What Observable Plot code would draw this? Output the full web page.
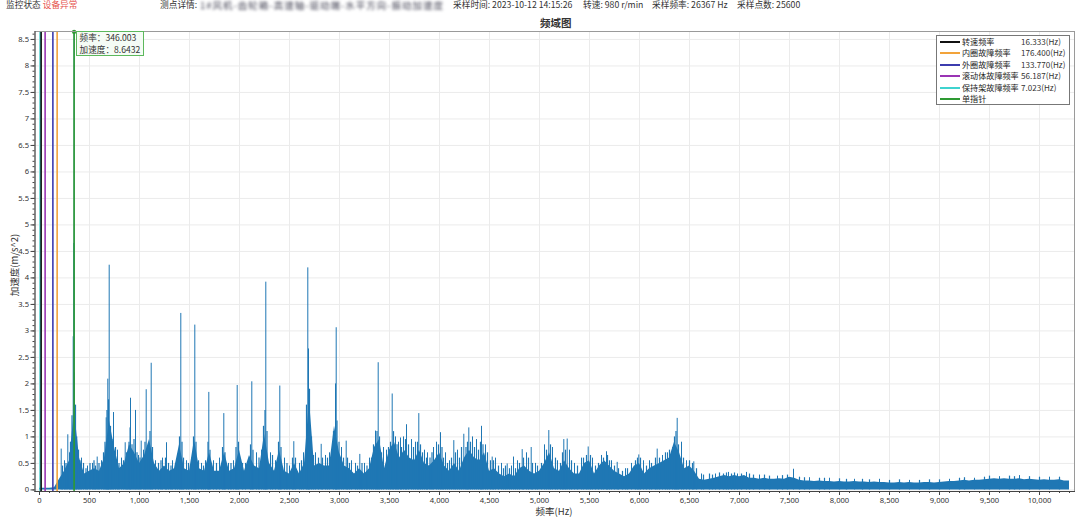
<!DOCTYPE html>
<html>
<head>
<meta charset="utf-8">
<script src="https://cdn.jsdelivr.net/npm/d3@7"></script>
<script src="https://cdn.jsdelivr.net/npm/@observablehq/plot@0.6"></script>
<style>
  html, body { margin: 0; padding: 0; background: #fff; }
  body { width: 1080px; height: 517px; position: relative; overflow: hidden;
         font-family: "Noto Sans CJK SC", "Noto Sans", sans-serif; color: #333; }
  .abs { position: absolute; white-space: nowrap; }
  .hdr { font-size: 8.7px; line-height: 12px; top: -1px; color: #333; }
  #legend { position: absolute; left: 936px; top: 35px; width: 132px; height: 68px;
            border: 1px solid #777; background: #fff; font-size: 8.1px; }
  #legend .row { position: absolute; left: 0; height: 11.4px; line-height: 11.4px; width: 132px; }
  #legend .sw { position: absolute; left: 3px; top: 5px; width: 20px; height: 2px; }
  #legend .nm { position: absolute; left: 25px; color: #222; }
  #legend .vl { position: absolute; left: 84px; color: #333; }
  #tip { position: absolute; border: 1px solid #5cb85c; background: rgba(244,252,244,0.9);
         font-size: 8.6px; line-height: 11.5px; padding: 0 3px; color: #333; }
</style>
</head>
<body>
<div class="abs hdr" style="left:6px">监控状态 <span style="color:#e5514b">设备异常</span></div>
<div class="abs hdr" style="left:160px">测点详情:</div>
<div class="abs hdr" style="left:200px;color:#445;filter:blur(1.6px);letter-spacing:1px;font-size:9.5px">1#风机-齿轮箱-高速轴-驱动端-水平方向-振动加速度</div>
<div class="abs hdr" style="left:453px">采样时间: 2023-10-12 14:15:26</div>
<div class="abs hdr" style="left:583px">转速: 980 r/min</div>
<div class="abs hdr" style="left:652px">采样频率: 26367 Hz</div>
<div class="abs hdr" style="left:737px">采样点数: 25600</div>
<div class="abs" style="left:540px;top:16px;font-size:10.5px;font-weight:bold;line-height:14px">频域图</div>
<div id="chart" class="abs" style="left:0;top:0"></div>
<div class="abs" style="left:14px;top:265px;font-size:9.5px;transform:translate(-50%,-50%) rotate(-90deg)">加速度(m/s^2)</div>
<div class="abs" style="left:554px;top:511px;font-size:9.5px;transform:translate(-50%,-50%)">频率(Hz)</div>
<div id="legend"></div>
<div id="tip"></div>
<script>
// ---- data ----
// background spectrum upper edge, one value every 50 Hz from 0 Hz
const noiseTop = [
  0.03,0.03,0.03,0.04,0.2,0.35,0.55,1.5,0.6,0.3,
  0.35,0.4,0.35,0.6,1.3,0.8,0.4,0.5,0.85,0.7,
  0.5,0.65,0.95,0.5,0.35,0.45,0.35,0.4,0.85,0.4,
  0.35,0.95,0.4,0.35,0.7,0.35,0.35,0.7,0.35,0.4,
  0.75,0.35,0.65,0.45,0.4,1.05,0.5,0.35,0.75,0.35,
  0.3,0.5,0.3,0.5,1.7,0.45,0.5,0.45,0.45,1.2,
  0.7,0.45,0.4,0.3,0.4,0.3,0.4,0.8,0.95,0.4,
  0.75,0.9,0.6,0.75,0.6,0.55,0.75,0.5,0.45,0.55,
  0.7,0.45,0.35,0.5,0.35,0.6,0.75,0.6,0.55,0.7,
  0.35,0.4,0.3,0.25,0.3,0.25,0.4,0.45,0.35,0.3,
  0.35,0.5,0.7,0.4,0.35,0.55,0.4,0.3,0.3,0.5,
  0.55,0.3,0.45,0.55,0.45,0.35,0.3,0.25,0.3,0.45,
  0.5,0.3,0.4,0.45,0.5,0.55,0.6,0.9,0.7,0.4,
  0.45,0.35,0.2,0.18,0.2,0.22,0.25,0.27,0.25,0.27,
  0.25,0.27,0.22,0.22,0.2,0.22,0.2,0.2,0.21,0.2,
  0.24,0.22,0.18,0.17,0.17,0.16,0.17,0.16,0.16,0.15,
  0.16,0.15,0.15,0.16,0.15,0.15,0.14,0.15,0.14,0.14,
  0.13,0.13,0.14,0.13,0.14,0.13,0.13,0.14,0.14,0.13,
  0.14,0.15,0.16,0.16,0.17,0.18,0.17,0.18,0.18,0.19,
  0.2,0.21,0.2,0.21,0.2,0.2,0.21,0.19,0.2,0.19,
  0.18,0.19,0.18,0.18,0.19,0.17,0.17
];
const noiseStepHz = 50;

// tall spectral lines (Hz, m/s^2)
const peakFreqs = [217,283,337,343,346.003,350,577,667,683,697,740,857,905,910,960,1017,1067,1117,1270,1413,1553,1693,1843,1977,2123,2263,2403,2543,2683,2690,2817,2960,2967,3067,3203,3360,3387,3527,3610,3670,3793,4010,4143,4243,4293,4420,4527,4677,4740,4827,4917,5093,5243,5277,5487,5670,5777,5993,6177,6377,6543,6890,7070,7540];
const peakValues = [0.77,1.04,2.89,4.65,8.6432,2.21,0.62,1.36,2.09,4.24,1.46,0.89,1.17,1.73,1.50,0.92,1.89,2.39,0.89,3.33,3.11,1.84,1.44,1.97,2.04,3.92,1.96,0.91,4.19,2.66,0.86,2.0,3.06,0.92,0.67,1.11,2.40,1.81,0.98,1.23,1.44,1.08,0.93,1.05,1.17,1.20,0.62,0.49,0.62,0.76,0.80,1.12,0.95,0.96,0.81,0.72,0.52,0.66,0.77,1.35,0.53,0.33,0.33,0.39];

// smaller spectral lines poking out of the noise
const minorFreqs = [250,300,420,480,530,620,780,820,880,990,1040,1160,1230,1330,1380,1470,1520,1620,1660,1740,1800,1890,1940,2060,2170,2220,2310,2360,2450,2500,2600,2640,2760,2860,2900,3020,3120,3160,3250,3300,3440,3470,3560,3590,3640,3720,3760,3850,3880,3940,3970,4060,4100,4180,4330,4370,4460,4560,4620,4720,4780,4870,4960,5050,5130,5180,5300,5350,5420,5530,5620,5720,5860,5920,6040,6100,6230,6280,6330,6420,6470,6620,6760,6980,7200,7380,7700,7900,8150,8400,8700,9100,9350,9600,9800,10100];
const minorValues = [0.55,0.7,0.6,0.45,0.5,0.55,0.75,0.6,0.7,0.65,0.75,0.55,0.6,0.55,0.65,0.55,0.6,0.5,0.55,0.55,0.6,0.5,0.55,0.5,0.7,0.75,0.7,0.55,0.6,0.45,0.5,0.7,0.7,0.65,0.7,0.8,0.55,0.5,0.5,0.6,0.8,0.75,1.0,0.9,1.0,0.95,0.9,0.75,0.7,0.8,0.9,0.7,0.55,0.75,1.0,0.95,0.85,0.6,0.5,0.45,0.55,0.7,0.5,0.85,0.8,0.55,0.75,0.5,0.6,0.6,0.65,0.55,0.4,0.5,0.55,0.55,0.65,0.7,0.8,0.9,0.55,0.3,0.3,0.3,0.28,0.26,0.23,0.22,0.2,0.2,0.18,0.2,0.22,0.25,0.27,0.24];

// fine lines that give the noise band its ragged top [Hz, m/s^2]
const fineLines = [
  [230,0.45],[265,0.5],[310,0.9],[325,1.4],[360,1.6],[372,1.0],[390,0.75],[405,0.55],[440,0.5],[465,0.4],
  [505,0.5],[545,0.55],[560,0.45],[595,0.5],[640,0.7],[655,0.9],[675,1.5],[690,1.7],[710,1.2],[725,0.95],
  [760,0.8],[795,0.5],[840,0.55],[870,0.7],[895,0.9],[925,0.85],[945,0.95],[975,0.7],[1005,0.6],[1055,0.9],
  [1085,0.8],[1105,1.1],[1130,0.8],[1190,0.5],[1215,0.55],[1260,0.6],[1290,0.5],[1315,0.45],[1360,0.5],[1400,1.0],
  [1425,0.9],[1440,0.6],[1490,0.5],[1540,1.0],[1565,0.9],[1590,0.55],[1640,0.45],[1685,0.9],[1705,0.75],[1770,0.5],
  [1830,0.8],[1855,0.7],[1915,0.5],[1965,0.8],[1990,0.9],[2030,0.5],[2110,0.85],[2135,0.75],[2195,0.6],[2240,1.2],
  [2255,1.5],[2275,1.1],[2330,0.65],[2390,0.9],[2415,0.8],[2475,0.5],[2530,0.6],[2560,0.6],[2620,0.55],[2670,1.6],
  [2700,1.9],[2720,1.0],[2740,0.65],[2790,0.6],[2830,0.6],[2880,0.6],[2940,1.1],[2975,1.3],[2995,0.9],[3040,0.6],
  [3080,0.6],[3100,0.5],[3180,0.45],[3225,0.5],[3275,0.45],[3320,0.6],[3340,0.85],[3375,1.1],[3400,1.0],[3420,0.7],
  [3490,0.8],[3510,0.9],[3540,1.1],[3575,0.85],[3620,0.8],[3660,0.95],[3690,0.85],[3740,0.8],[3780,0.9],[3810,0.85],
  [3830,0.7],[3870,0.6],[3905,0.6],[3925,0.7],[3990,0.85],[4025,0.8],[4040,0.6],[4080,0.5],[4120,0.6],[4160,0.7],
  [4200,0.6],[4220,0.8],[4265,0.8],[4280,0.9],[4310,0.9],[4350,0.8],[4390,0.75],[4410,0.9],[4435,0.85],[4480,0.7],
  [4510,0.55],[4540,0.55],[4590,0.45],[4640,0.4],[4660,0.45],[4700,0.4],[4760,0.4],[4800,0.5],[4840,0.6],[4890,0.6],
  [4930,0.5],[4980,0.45],[5020,0.5],[5070,0.75],[5110,0.85],[5160,0.6],[5210,0.5],[5230,0.7],[5260,0.75],[5320,0.55],
  [5380,0.45],[5440,0.6],[5470,0.65],[5510,0.65],[5560,0.45],[5590,0.5],[5640,0.6],[5680,0.65],[5700,0.55],[5750,0.45],
  [5790,0.4],[5830,0.35],[5880,0.4],[5960,0.55],[5980,0.6],[6010,0.6],[6070,0.45],[6120,0.5],[6160,0.6],[6200,0.6],
  [6260,0.7],[6300,0.75],[6350,1.0],[6365,1.1],[6390,0.85],[6440,0.6],[6500,0.55],[6530,0.5],[6570,0.4],[6640,0.28],
  [6700,0.3],[6730,0.28],[6800,0.32],[6840,0.3],[6870,0.32],[6920,0.3],[6950,0.32],[7020,0.3],[7100,0.3],[7140,0.28],
  [7250,0.28],[7300,0.26],[7430,0.27],[7480,0.28],[7600,0.24],[7650,0.23],[7800,0.22],[7850,0.22],[8000,0.21],[8070,0.2],
  [8230,0.2],[8300,0.19],[8500,0.18],[8600,0.19],[8800,0.18],[8900,0.19],[9000,0.19],[9200,0.22],[9250,0.23],[9450,0.24],
  [9500,0.26],[9700,0.26],[9750,0.25],[9900,0.25],[10000,0.24],[10200,0.24]
];

// characteristic frequency markers
const markerNames  = ["转速频率","内圈故障频率","外圈故障频率","滚动体故障频率","保持架故障频率","单指针"];
const markerFreqs  = [16.333, 176.400, 133.770, 56.187, 7.023, 346.003];
const markerLabels = ["16.333(Hz)","176.400(Hz)","133.770(Hz)","56.187(Hz)","7.023(Hz)",""];
const markerColors = ["#111111","#f2a33a","#3c3cae","#9a34b4","#3fd3cf","#2e9a32"];

const cursorFreq = 346.003;
const cursorValue = 8.6432;

const xTicks = [0,500,1000,1500,2000,2500,3000,3500,4000,4500,5000,5500,6000,6500,7000,7500,8000,8500,9000,9500,10000];
const yTicks = [0,0.5,1,1.5,2,2.5,3,3.5,4,4.5,5,5.5,6,6.5,7,7.5,8,8.5];

// ---- build ----
const noise = noiseTop.map((v, i) => ({f: i * noiseStepHz, v}));
const peaks = peakFreqs.map((f, i) => ({f, v: peakValues[i]}));
const minors = minorFreqs.map((f, i) => ({f, v: minorValues[i]}));
const fines = fineLines.map(([f, v]) => ({f, v}));
const markers = markerFreqs.map((f, i) => ({f, c: markerColors[i], n: markerNames[i]}));
const markerOrder = [4, 0, 3, 2, 1, 5].map(i => markers[i]);
const xMinor = d3.range(0, 10301, 100);
const yMinor = d3.range(0, 87).map(i => i / 10);

const blue = "#1f77b4";
const chart = Plot.plot({
  width: 1080, height: 517,
  marginTop: 31, marginBottom: 26, marginLeft: 34.5, marginRight: 6,
  x: {domain: [-45, 10350]},
  y: {domain: [-0.03, 8.65]},
  style: {fontFamily: "'Noto Sans', 'Open Sans', sans-serif", fontSize: "7.6px", color: "#333", background: "transparent"},
  marks: [
    Plot.gridX(xTicks, {stroke: "#ebebeb", strokeOpacity: 1}),
    Plot.gridY(yTicks, {stroke: "#ebebeb", strokeOpacity: 1}),
    Plot.areaY(noise, {x: "f", y1: 0, y2: "v", fill: blue, curve: "linear"}),
    Plot.ruleX(fines, {x: "f", y1: 0, y2: "v", stroke: blue, strokeWidth: 1.2}),
    Plot.ruleX(minors, {x: "f", y1: 0, y2: "v", stroke: blue, strokeWidth: 1}),
    Plot.ruleX(peaks, {x: "f", y1: 0, y2: "v", stroke: blue, strokeWidth: 1}),
    Plot.ruleX(markerOrder, {x: "f", stroke: "c", strokeWidth: 1.6}),
    Plot.dot([{f: cursorFreq, v: cursorValue}], {x: "f", y: "v", r: 2.2, fill: markerColors[5], stroke: "none"}),
    Plot.frame({stroke: "#9a9a9a"}),
    Plot.frame({anchor: "left", stroke: "#444"}),
    Plot.frame({anchor: "bottom", stroke: "#444"}),
    Plot.axisY(yTicks, {tickSize: 4, tickPadding: 2, tickFormat: d => String(d), label: null, stroke: "#444"}),
    Plot.axisY(yMinor, {tickSize: 2, tickFormat: () => "", label: null, stroke: "#444"}),
    Plot.axisX(xTicks, {tickSize: 4, tickPadding: 2, tickFormat: d3.format(","), label: null, stroke: "#444"}),
    Plot.axisX(xMinor, {tickSize: 2, tickFormat: () => "", label: null, stroke: "#444"})
  ]
});
document.getElementById("chart").appendChild(chart);

// legend
const legend = document.getElementById("legend");
markerNames.forEach((n, i) => {
  const row = document.createElement("div");
  row.className = "row";
  row.style.top = (i * 11.4) + "px";
  row.innerHTML = `<div class="sw" style="background:${markerColors[i]}"></div><span class="nm">${n}</span><span class="vl">${markerLabels[i]}</span>`;
  legend.appendChild(row);
});

// cursor tooltip
const xs = chart.scale("x"), ys = chart.scale("y");
const tip = document.getElementById("tip");
tip.style.left = (xs.apply(cursorFreq) + 2) + "px";
tip.style.top = (ys.apply(cursorValue)) + "px";
tip.innerHTML = `频率：${cursorFreq.toFixed(3)}<br>加速度：${cursorValue}`;
</script>
</body>
</html>
